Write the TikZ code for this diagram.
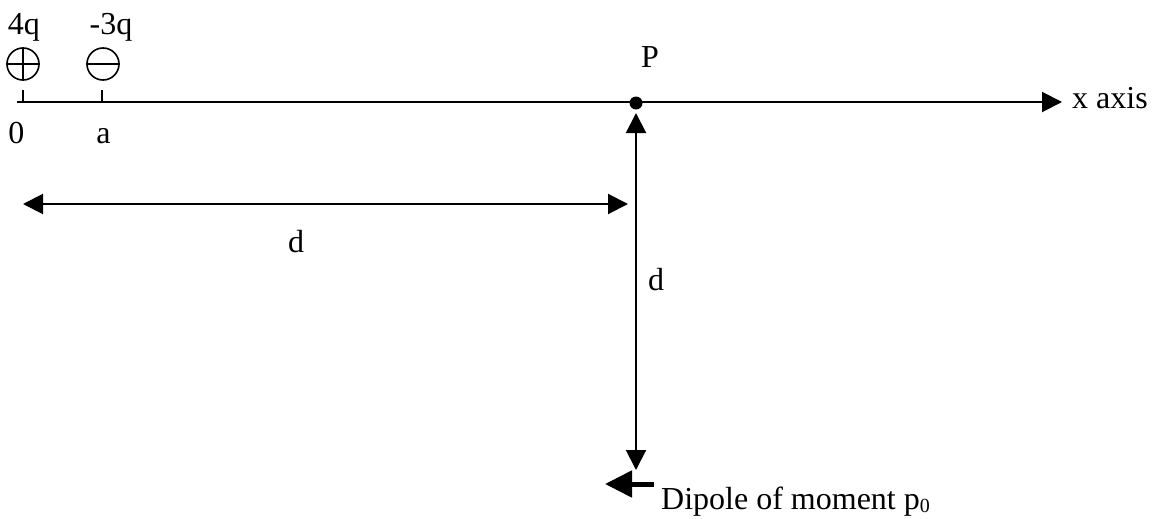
\documentclass[tikz,border=0pt]{standalone}
\usepackage{fontspec}
\setmainfont{Liberation Serif}
\usetikzlibrary{arrows.meta}
\begin{document}
\begin{tikzpicture}[x=1pt,y=-1pt,
  lbl/.style={inner sep=0pt,font=\fontsize{32}{38}\selectfont},
  ln/.style={line width=2pt},
  dimarrow/.style={ln,{Triangle[length=20pt,width=20pt]}-{Triangle[length=20pt,width=20pt]}},
  charge/.style={circle,draw,line width=1.6pt,minimum size=32pt,inner sep=0pt},
  dot/.style={circle,fill,minimum size=13pt,inner sep=0pt}]
\useasboundingbox (0,0) rectangle (1154,519);
% axis
\coordinate (O) at (17,102);
\coordinate (X) at (1062,102);
\draw[ln,-{Triangle[length=20pt,width=20pt]}] (O) -- (X);
\node[dot] (P) at (636,103) {};
% ticks
\coordinate (t0) at (22.5,102);
\coordinate (t0top) at (22.5,90);
\coordinate (ta) at (102,102);
\coordinate (tatop) at (102,90);
\draw[ln] (t0) -- (t0top);
\draw[ln] (ta) -- (tatop);
% charges
\node[charge] (qp) at (23,64) {};
\draw[line width=1.6pt] (qp.north) -- (qp.south) (qp.west) -- (qp.east);
\node[charge] (qm) at (103,64) {};
\draw[line width=1.6pt] (qm.west) -- (qm.east);
% labels
\node[lbl,anchor=base] (l4q) at (24,35) {4q};
\node[lbl,anchor=base] (l3q) at (111,35) {-3q};
\node[lbl,anchor=base] (l0) at (16.5,143) {0};
\node[lbl,anchor=base] (la) at (103.5,143) {a};
\node[lbl,anchor=base] (lP) at (650,67) {P};
\node[lbl,anchor=base west] (lx) at (1072,108) {x axis};
% horizontal d
\coordinate (dL) at (23,204);
\coordinate (dR) at (628,204);
\draw[dimarrow] (dL) -- (dR);
\node[lbl,anchor=base] (ldh) at (296,252) {d};
% vertical d
\coordinate (vT) at (636,113);
\coordinate (vB) at (636,470);
\draw[dimarrow] (vT) -- (vB);
\node[lbl,anchor=base] (ldv) at (656,290) {d};
% dipole
\coordinate (dipS) at (654,484);
\coordinate (dipT) at (605,484);
\draw[line width=5pt,-{Triangle[length=27pt,width=26pt]}] (dipS) -- (dipT);
\node[lbl,anchor=base west] (ldip) at (661,509) {Dipole of moment p{\fontsize{20}{24}\selectfont\raisebox{-3pt}{0}}};
\end{tikzpicture}
\end{document}
